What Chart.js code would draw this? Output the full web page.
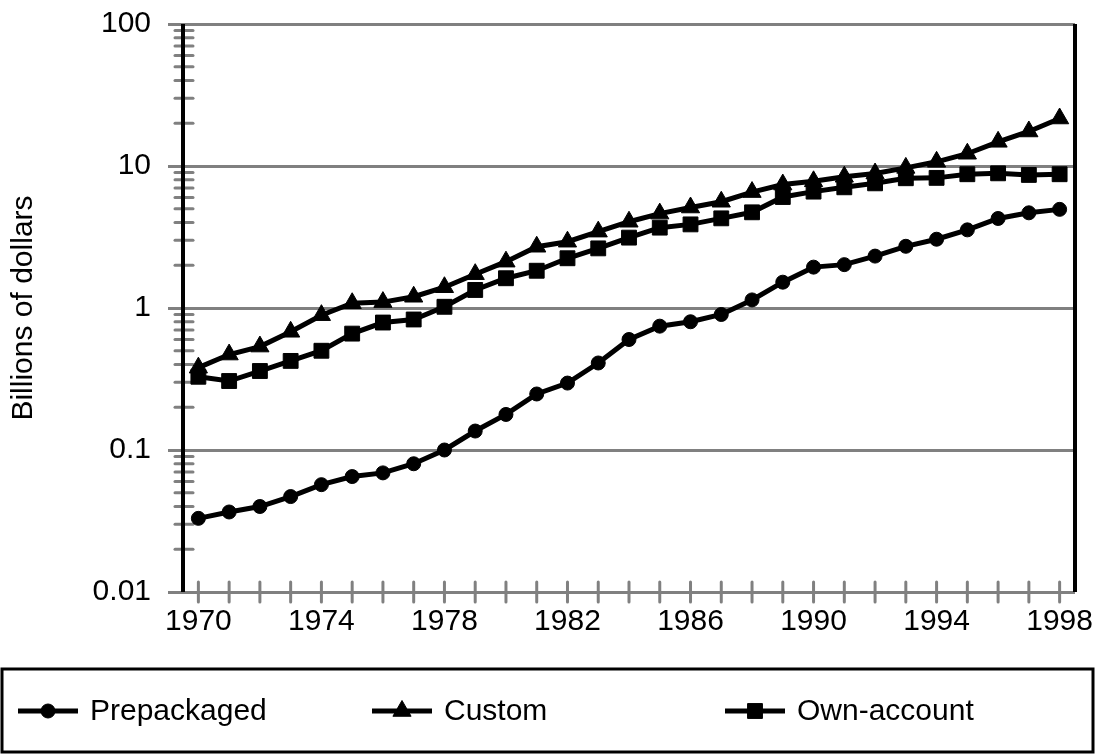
<!DOCTYPE html>
<html lang="en">
<head>
    <meta charset="UTF-8">
    <title>Software investment</title>
    <script src="https://cdn.jsdelivr.net/npm/chart.js"></script>
    <style>
        html, body { margin: 0; padding: 0; background: #fff; }
        #wrap { width: 1096px; height: 754px; }
    </style>
</head>
<body>
    <div id="wrap"><canvas id="softwareChart" width="1096" height="754"></canvas></div>

    <script>
        // values in billions of dollars
        const years = ['1970', '1971', '1972', '1973', '1974', '1975', '1976', '1977', '1978', '1979',
                       '1980', '1981', '1982', '1983', '1984', '1985', '1986', '1987', '1988', '1989',
                       '1990', '1991', '1992', '1993', '1994', '1995', '1996', '1997', '1998'];
        const prepackaged = [0.033, 0.0366, 0.040, 0.047, 0.057, 0.065, 0.069, 0.080, 0.100, 0.136,
                             0.178, 0.248, 0.296, 0.41, 0.60, 0.745, 0.80, 0.90, 1.14, 1.52,
                             1.94, 2.02, 2.32, 2.72, 3.05, 3.55, 4.27, 4.68, 4.95];
        const custom = [0.38, 0.47, 0.535, 0.68, 0.89, 1.08, 1.10, 1.20, 1.40, 1.73,
                        2.12, 2.70, 2.93, 3.45, 4.05, 4.62, 5.10, 5.60, 6.55, 7.40,
                        7.80, 8.40, 8.85, 9.70, 10.7, 12.2, 14.8, 17.5, 21.6];
        const ownAccount = [0.328, 0.306, 0.36, 0.424, 0.50, 0.66, 0.79, 0.83, 1.02, 1.34,
                            1.62, 1.83, 2.24, 2.63, 3.13, 3.68, 3.88, 4.28, 4.72, 6.05,
                            6.6, 7.08, 7.55, 8.2, 8.25, 8.75, 8.88, 8.65, 8.75];
        const seriesNames = ['Prepackaged', 'Custom', 'Own-account'];
        const yTickLabels = ['0.01', '0.1', '1', '10', '100'];

        const FONT = 'Liberation Sans, Arial, sans-serif';
        const FSIZE = 30;
        const GRAY = '#808080';

        function isDecade(v) {
            const l = Math.log10(v);
            return Math.abs(l - Math.round(l)) < 1e-6;
        }

        // minor ticks across the y axis, tick marks across the x axis, black frame sides
        const axisDecor = {
            id: 'axisDecor',
            beforeDatasetsDraw(chart) {
                const ctx = chart.ctx;
                const a = chart.chartArea;
                const ys = chart.scales.y;
                const xs = chart.scales.x;
                ctx.save();
                ctx.strokeStyle = GRAY;
                ctx.lineWidth = 3;
                ctx.lineCap = 'round';
                for (let d = -2; d < 2; d++) {
                    for (let k = 2; k <= 9; k++) {
                        const y = ys.getPixelForValue(k * Math.pow(10, d));
                        ctx.beginPath();
                        ctx.moveTo(a.left - 8, y);
                        ctx.lineTo(a.left + 10, y);
                        ctx.stroke();
                    }
                }
                for (let i = 0; i < years.length; i++) {
                    const x = xs.getPixelForValue(i);
                    ctx.beginPath();
                    ctx.moveTo(x, a.bottom - 10);
                    ctx.lineTo(x, a.bottom + 10);
                    ctx.stroke();
                }
                ctx.lineCap = 'butt';
                ctx.strokeStyle = '#000';
                ctx.lineWidth = 4;
                ctx.beginPath();
                ctx.moveTo(a.left, a.top);
                ctx.lineTo(a.left, a.bottom);
                ctx.moveTo(a.right, a.top);
                ctx.lineTo(a.right, a.bottom);
                ctx.stroke();
                ctx.restore();
            }
        };

        // boxed legend under the plot
        const boxLegend = {
            id: 'boxLegend',
            afterDraw(chart) {
                const ctx = chart.ctx;
                const itemX = [18, 372, 725];
                const cy = 711;
                ctx.save();
                ctx.strokeStyle = '#000';
                ctx.lineWidth = 3;
                ctx.strokeRect(2, 669, 1091, 83);
                chart.data.datasets.forEach((ds, i) => {
                    const x0 = itemX[i];
                    ctx.strokeStyle = '#000';
                    ctx.fillStyle = '#000';
                    ctx.lineWidth = 5;
                    ctx.beginPath();
                    ctx.moveTo(x0, cy);
                    ctx.lineTo(x0 + 60, cy);
                    ctx.stroke();
                    ctx.lineWidth = 1;
                    Chart.helpers.drawPoint(ctx, {
                        pointStyle: ds.pointStyle,
                        radius: ds.pointRadius,
                        rotation: 0,
                        borderWidth: 1
                    }, x0 + 30, cy);
                    ctx.font = FSIZE + 'px ' + FONT;
                    ctx.textBaseline = 'middle';
                    ctx.textAlign = 'left';
                    ctx.fillText(ds.label, x0 + 72, cy + 1);
                });
                ctx.restore();
            }
        };

        const ctx = document.getElementById('softwareChart').getContext('2d');
        const makeSet = (label, data, style, r) => ({
            label: label,
            data: data,
            borderColor: '#000',
            backgroundColor: '#000',
            borderWidth: 5,
            pointStyle: style,
            pointRadius: r,
            pointBorderWidth: 1,
            pointBackgroundColor: '#000',
            pointBorderColor: '#000',
            tension: 0
        });

        const softwareChart = new Chart(ctx, {
            type: 'line',
            data: {
                labels: years,
                datasets: [
                    makeSet(seriesNames[0], prepackaged, 'circle', 7),
                    makeSet(seriesNames[1], custom, 'triangle', 10.5),
                    makeSet(seriesNames[2], ownAccount, 'rect', 10.5)
                ]
            },
            options: {
                responsive: false,
                animation: false,
                layout: { padding: { top: 24, right: 21, bottom: 114, left: 0 } },
                plugins: {
                    legend: { display: false },
                    tooltip: { enabled: false }
                },
                scales: {
                    x: {
                        type: 'category',
                        offset: true,
                        grid: { display: false, drawTicks: false },
                        border: { display: false },
                        ticks: {
                            autoSkip: false,
                            maxRotation: 0,
                            padding: 12,
                            color: '#000',
                            font: { family: FONT, size: FSIZE },
                            callback: (v, i) => (i % 4 === 0 ? years[i] : '')
                        },
                        afterFit: (s) => {
                            s.height = 48;
                            s.paddingLeft = 0;
                            s.paddingRight = 0;
                        }
                    },
                    y: {
                        type: 'logarithmic',
                        min: 0.01,
                        max: 100,
                        border: { display: false },
                        grid: {
                            color: (c) => (isDecade(c.tick.value) ? GRAY : 'rgba(0,0,0,0)'),
                            lineWidth: 3,
                            drawTicks: true,
                            tickLength: 15,
                            tickColor: (c) => (isDecade(c.tick.value) ? GRAY : 'rgba(0,0,0,0)'),
                            tickWidth: 3
                        },
                        ticks: {
                            autoSkip: false,
                            padding: 17,
                            color: '#000',
                            font: { family: FONT, size: FSIZE },
                            callback: (v) => (isDecade(v) ? yTickLabels[Math.round(Math.log10(v)) + 2] : '')
                        },
                        title: {
                            display: true,
                            text: 'Billions of dollars',
                            color: '#000',
                            font: { family: FONT, size: FSIZE },
                            padding: { top: 6, bottom: 0 }
                        },
                        afterFit: (s) => {
                            s.width = 183;
                            s.paddingTop = 0;
                            s.paddingBottom = 0;
                        }
                    }
                }
            },
            plugins: [axisDecor, boxLegend]
        });
    </script>
</body>
</html>
